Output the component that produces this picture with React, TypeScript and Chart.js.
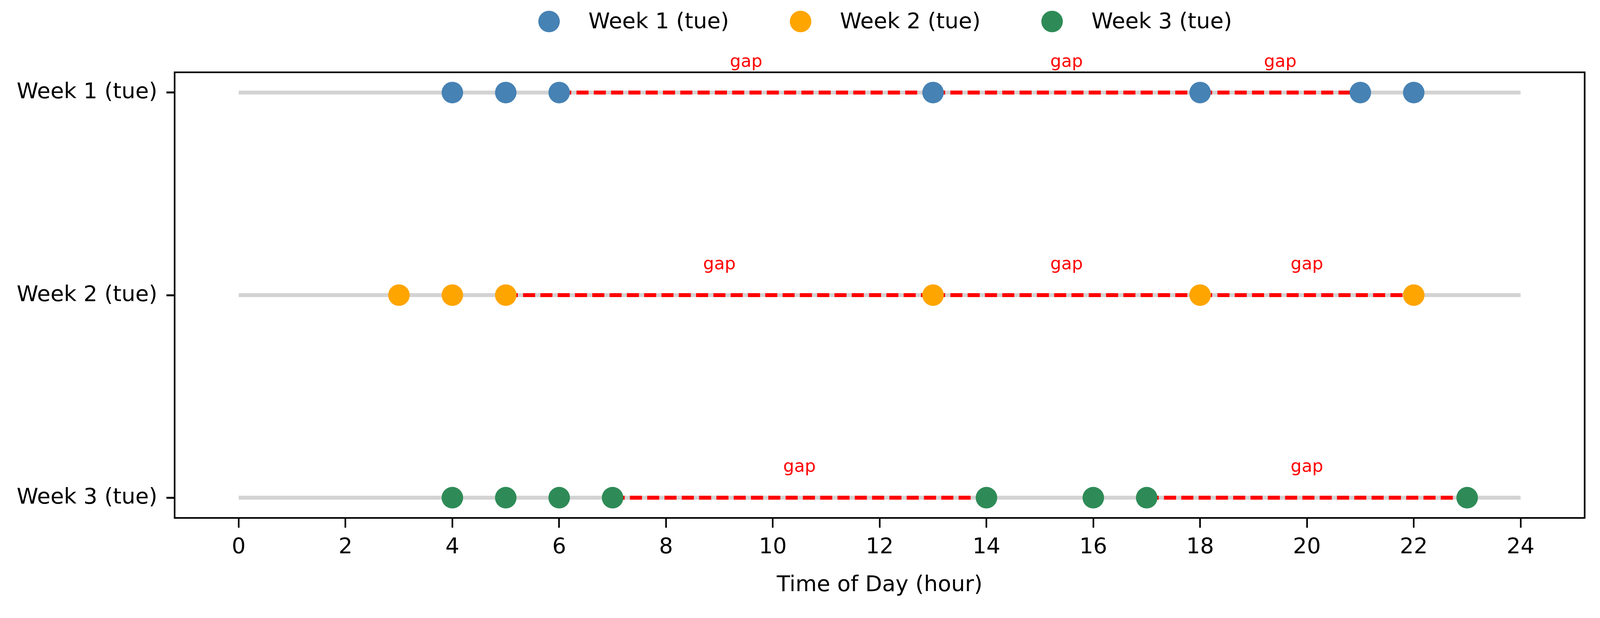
import React, { useEffect, useRef } from 'react';
import { Chart, registerables } from 'chart.js';

Chart.register(...registerables);

// ---- data ----
const weekLabels = ['Week 1 (tue)', 'Week 2 (tue)', 'Week 3 (tue)'];
const week1Hours = [4, 5, 6, 13, 18, 21, 22];
const week2Hours = [3, 4, 5, 13, 18, 22];
const week3Hours = [4, 5, 6, 7, 14, 16, 17, 23];
const weekHours = [week1Hours, week2Hours, week3Hours];
const weekColors = ['#4682b4', '#ffa500', '#2e8b57'];
const xTicks = [0, 2, 4, 6, 8, 10, 12, 14, 16, 18, 20, 22, 24];
const yTicks = [0, 1, 2];
const dayStart = 0;
const dayEnd = 24;
const gapThreshold = 3; // hours between consecutive events counted as a gap
const gapLabel = 'gap';
const xTitle = 'Time of Day (hour)';

// gaps derived from the series
const gaps: { row: number; from: number; to: number }[] = [];
weekHours.forEach((hours, row) => {
  for (let i = 1; i < hours.length; i++) {
    if (hours[i] - hours[i - 1] >= gapThreshold) {
      gaps.push({ row, from: hours[i - 1], to: hours[i] });
    }
  }
});

const FONT = '"DejaVu Sans", sans-serif';
const REF_W = 4902;
const REF_H = 1581;

export default function App() {
  const ref = useRef<HTMLCanvasElement | null>(null);
  const W = typeof window !== 'undefined' ? window.innerWidth : REF_W;
  const H = typeof window !== 'undefined' ? window.innerHeight : REF_H;
  const sx = W / REF_W;
  const sy = H / REF_H;
  const px = (v: number) => v * sx;
  const py = (v: number) => v * sy;

  useEffect(() => {
    if (!ref.current) return;
    const TICK_FONT_SIZE = px(67);
    const GAP_FONT_SIZE = px(53);
    const MARKER_R = px(33);
    const LW = py(10);

    const overlayPlugin = {
      id: 'overlay',
      afterDraw(chart: any) {
        const { ctx, chartArea, scales } = chart;
        const xs = scales.x;
        const ys = scales.y;
        ctx.save();
        ctx.fillStyle = 'red';
        ctx.font = `${GAP_FONT_SIZE}px ${FONT}`;
        ctx.textAlign = 'center';
        ctx.textBaseline = 'middle';
        gaps.forEach((g) => {
          const gx = xs.getPixelForValue((g.from + g.to) / 2);
          const gy = ys.getPixelForValue(g.row - 0.15);
          ctx.fillText(gapLabel, gx, gy);
        });
        ctx.strokeStyle = '#000';
        ctx.lineWidth = px(5);
        ctx.strokeRect(chartArea.left, chartArea.top, chartArea.right - chartArea.left, chartArea.bottom - chartArea.top);
        const fs = TICK_FONT_SIZE;
        ctx.font = `${fs}px ${FONT}`;
        ctx.textAlign = 'left';
        ctx.textBaseline = 'middle';
        const handle = 2.0 * fs;
        const textPad = 0.8 * fs;
        const colSpace = 2.27 * fs;
        const items = weekLabels.map((t, i) => ({ t, c: weekColors[i], w: ctx.measureText(t).width }));
        const total = items.reduce((acc, it) => acc + handle + textPad + it.w, 0) + colSpace * (items.length - 1);
        let x = (chartArea.left + chartArea.right) / 2 - total / 2;
        const ly = py(55);
        items.forEach((it) => {
          ctx.beginPath();
          ctx.fillStyle = it.c;
          ctx.arc(x + handle / 2, ly, MARKER_R, 0, Math.PI * 2);
          ctx.fill();
          ctx.fillStyle = '#000';
          ctx.fillText(it.t, x + handle + textPad, ly + py(2));
          x += handle + textPad + it.w + colSpace;
        });
        ctx.restore();
      },
    };

    const datasets: any[] = [];
    weekHours.forEach((_, row) => {
      datasets.push({
        label: '',
        data: [{ x: dayStart, y: row }, { x: dayEnd, y: row }],
        showLine: true,
        borderColor: '#d3d3d3',
        borderWidth: LW,
        pointRadius: 0,
        order: 2,
      });
    });
    gaps.forEach((g) => {
      datasets.push({
        label: '',
        data: [{ x: g.from, y: g.row }, { x: g.to, y: g.row }],
        showLine: true,
        borderColor: '#ff0000',
        borderWidth: LW,
        borderDash: [px(37), px(16)],
        borderCapStyle: 'butt',
        pointRadius: 0,
        order: 1,
      });
    });
    weekHours.forEach((hours, row) => {
      datasets.push({
        label: weekLabels[row],
        data: hours.map((h) => ({ x: h, y: row })),
        backgroundColor: weekColors[row],
        borderColor: weekColors[row],
        borderWidth: 0,
        pointRadius: MARKER_R,
        order: 0,
      });
    });

    const chart = new Chart(ref.current, {
      type: 'scatter',
      data: { datasets },
      options: {
        animation: false,
        responsive: false,
        events: [],
        layout: { padding: { top: py(185), right: px(47), left: 0, bottom: 0 } },
        plugins: { legend: { display: false }, tooltip: { enabled: false } },
        scales: {
          x: {
            type: 'linear',
            min: -1.2,
            max: 25.2,
            afterBuildTicks: (sc: any) => {
              sc.ticks = xTicks.map((v) => ({ value: v }));
            },
            afterFit: (sc: any) => {
              sc.height = H - py(1325);
            },
            border: { display: false },
            grid: { drawOnChartArea: false, drawTicks: true, tickLength: py(25), color: '#000', lineWidth: px(5) },
            ticks: {
              color: '#000',
              padding: py(75) - py(25) - TICK_FONT_SIZE * 0.6,
              font: { family: FONT, size: TICK_FONT_SIZE },
              maxRotation: 0,
              autoSkip: false,
              callback: (v: any) => String(v),
            },
            title: {
              display: true,
              text: xTitle,
              color: '#000',
              font: { family: FONT, size: TICK_FONT_SIZE },
              padding: { top: 0, bottom: py(84) - TICK_FONT_SIZE * 0.6 },
            },
          },
          y: {
            type: 'linear',
            reverse: true,
            min: -0.1,
            max: 2.1,
            afterBuildTicks: (sc: any) => {
              sc.ticks = yTicks.map((v) => ({ value: v }));
            },
            afterFit: (sc: any) => {
              sc.width = px(535);
            },
            border: { display: false },
            grid: { drawOnChartArea: false, drawTicks: true, tickLength: px(25), color: '#000', lineWidth: py(5) },
            ticks: {
              color: '#000',
              padding: px(28),
              font: { family: FONT, size: TICK_FONT_SIZE },
              autoSkip: false,
              callback: (v: any) => weekLabels[Math.round(v)] ?? '',
            },
          },
        },
      },
      plugins: [overlayPlugin],
    });
    return () => chart.destroy();
  }, []);

  return (
    <div style={{ position: 'fixed', left: 0, top: 0, width: `${W}px`, height: `${H}px`, background: '#fff', overflow: 'hidden' }}>
      <canvas ref={ref} width={W} height={H} style={{ display: 'block', width: `${W}px`, height: `${H}px` }} />
    </div>
  );
}
